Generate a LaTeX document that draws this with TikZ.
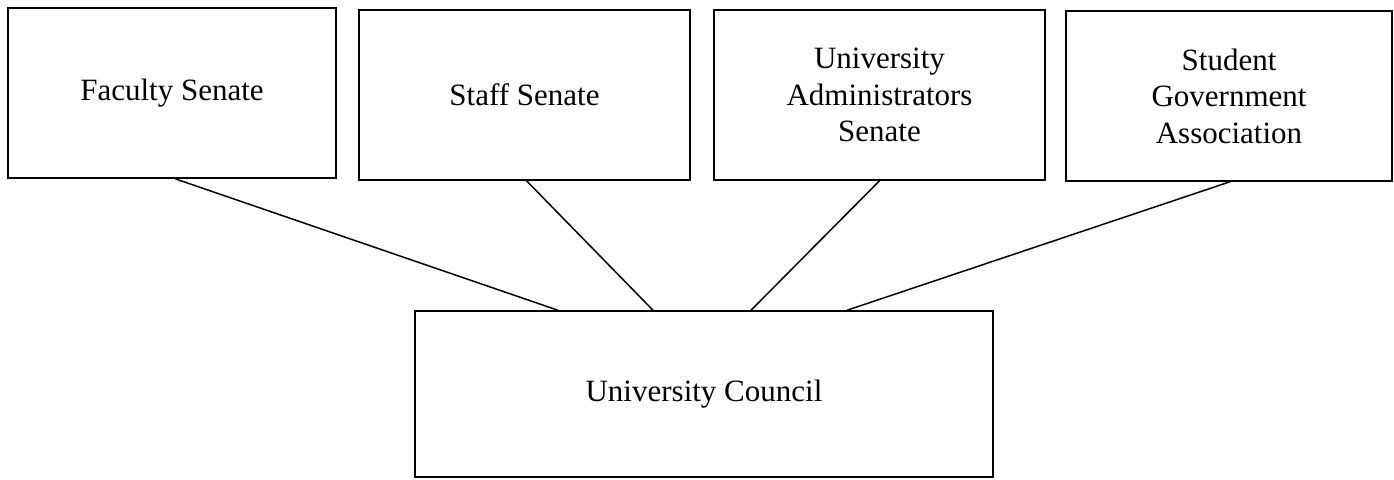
\documentclass[tikz,border=0pt]{standalone}
\usepackage{fontspec}
\setmainfont{Liberation Serif}
\usetikzlibrary{calc}
\begin{document}
\begin{tikzpicture}[x=1pt,y=-1pt,
  box/.style={draw=black,line width=1.5pt,rectangle,inner sep=0pt,align=center,
    font=\fontsize{31}{36.5}\selectfont},
  link/.style={draw=black,line width=1.5pt}]
\useasboundingbox[fill=white] (0,0) rectangle (1394,479);
\node[box,minimum width=328pt,minimum height=170pt] (fac) at (172,93) {Faculty Senate};
\node[box,minimum width=331pt,minimum height=170pt] (staff) at (524.5,95) {Staff Senate};
\node[box,minimum width=331pt,minimum height=170pt] (admin) at (879.5,95) {University\\Administrators\\Senate};
\node[box,minimum width=326pt,minimum height=170pt] (stud) at (1229,96) {Student\\Government\\Association};
\node[box,minimum width=578pt,minimum height=166pt] (council) at (704,394) {University Council};
\draw[link] ($(fac.south)+(3,0)$) -- ($(council.north)+(-146,0)$);
\draw[link] ($(staff.south)+(2,0)$) -- ($(council.north)+(-51,0)$);
\draw[link] (admin.south) -- ($(council.north)+(47,0)$);
\draw[link] ($(stud.south)+(1,0)$) -- ($(council.north)+(143,0)$);
\end{tikzpicture}
\end{document}
